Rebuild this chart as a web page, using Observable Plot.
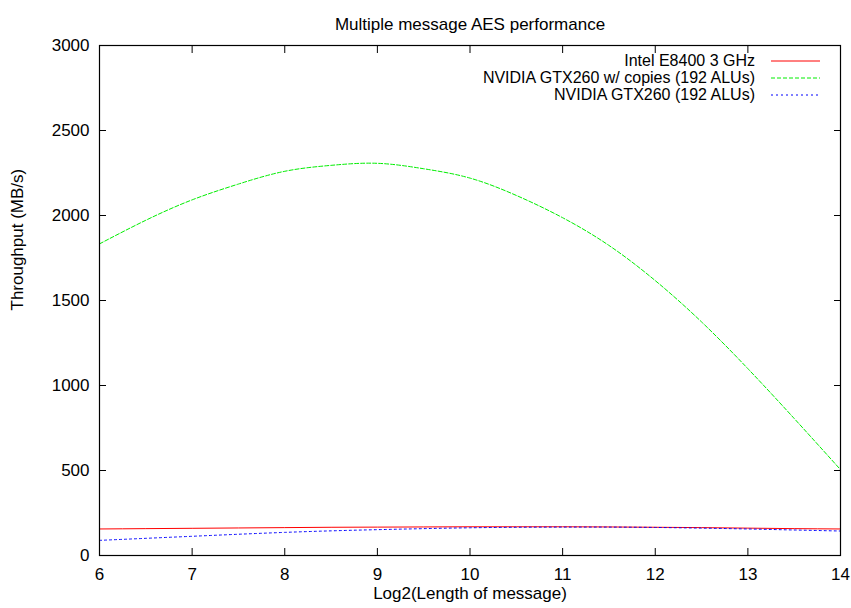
<!DOCTYPE html>
<html>
<head>
<meta charset="utf-8">
<script src="https://cdn.jsdelivr.net/npm/d3@7"></script>
<script src="https://cdn.jsdelivr.net/npm/@observablehq/plot@0.6"></script>
<style>
  html, body { margin: 0; padding: 0; background: #fff; }
  #wrap { position: relative; width: 851px; height: 608px; font-family: "Liberation Sans", Arial, sans-serif; }
  #legend { position: absolute; top: 52px; right: 31px; font-size: 16px; color: #000; }
  #legend .row { display: flex; align-items: center; justify-content: flex-end; height: 17.2px; line-height: 16px; }
  #legend svg { margin-left: 16px; }
</style>
</head>
<body>
<div id="wrap"><div id="legend"></div></div>
<script>
const title = "Multiple message AES performance";
const xLabel = "Log2(Length of message)";
const yLabel = "Throughput (MB/s)";

const messageLog2 = [6, 6.5, 7, 7.5, 8, 8.5, 9, 9.5, 10, 10.5, 11, 11.5, 12, 12.5, 13, 13.5, 14];
const intelE8400 = [156, 158, 160, 162, 164, 166, 167, 168, 169, 169, 169, 168, 166, 164, 161, 158, 156];
const gtx260Copies = [1833, 1972, 2092, 2185, 2260, 2295, 2307, 2275, 2220, 2118, 1987, 1824, 1617, 1374, 1099, 806, 505];
const gtx260 = [89, 101, 113, 125, 136, 145, 152, 158, 163, 166, 167, 167, 165, 161, 156, 150, 144];

const seriesNames = ["Intel E8400 3 GHz", "NVIDIA GTX260 w/ copies (192 ALUs)", "NVIDIA GTX260 (192 ALUs)"];
const seriesColors = ["#ff0000", "#00ee00", "#0000ff"];
const seriesDash = [null, "4,2", "2,3"];
const seriesValues = [intelE8400, gtx260Copies, gtx260];

const xTicks = [6, 7, 8, 9, 10, 11, 12, 13, 14];
const yTicks = [0, 500, 1000, 1500, 2000, 2500, 3000];

const lineMarks = seriesValues.map((vals, i) =>
  Plot.line(messageLog2.map((x, j) => ({x, y: vals[j]})), {
    x: "x", y: "y", stroke: seriesColors[i], strokeWidth: 1,
    strokeDasharray: seriesDash[i], curve: "natural"
  })
);

const chart = Plot.plot({
  width: 851,
  height: 608,
  marginLeft: 99,
  marginRight: 11,
  marginTop: 45,
  marginBottom: 53,
  style: { fontFamily: '"Liberation Sans", Arial, sans-serif', fontSize: "17px", color: "#000", background: "#fff" },
  x: { domain: [6, 14], ticks: xTicks },
  y: { domain: [0, 3000], ticks: yTicks },
  marks: [
    ...lineMarks,
    Plot.axisX({anchor: "bottom", ticks: xTicks, tickSize: -7, tickPadding: 19, tickFormat: d3.format("d"), label: null, fontSize: 17}),
    Plot.axisX({anchor: "top", ticks: xTicks, tickSize: -7, tickFormat: () => "", label: null}),
    Plot.axisY({anchor: "left", ticks: yTicks, tickSize: -7, tickPadding: 17, tickFormat: d3.format("d"), label: null, fontSize: 17}),
    Plot.axisY({anchor: "right", ticks: yTicks, tickSize: -7, tickFormat: () => "", label: null}),
    Plot.frame({stroke: "#000", strokeWidth: 1.2}),
    Plot.text([title], {text: d => d, frameAnchor: "top", dy: -28, fontSize: 17}),
    Plot.text([xLabel], {text: d => d, frameAnchor: "bottom", dy: 43, fontSize: 17}),
    Plot.text([yLabel], {text: d => d, frameAnchor: "left", dx: -82, dy: 10, rotate: -90, fontSize: 17})
  ]
});
document.getElementById("wrap").prepend(chart);

const legend = document.getElementById("legend");
seriesNames.forEach((name, i) => {
  const row = document.createElement("div");
  row.className = "row";
  const span = document.createElement("span");
  span.textContent = name;
  row.appendChild(span);
  const ns = "http://www.w3.org/2000/svg";
  const svg = document.createElementNS(ns, "svg");
  svg.setAttribute("width", "49");
  svg.setAttribute("height", "4");
  const ln = document.createElementNS(ns, "line");
  ln.setAttribute("x1", "0"); ln.setAttribute("x2", "49");
  ln.setAttribute("y1", "2"); ln.setAttribute("y2", "2");
  ln.setAttribute("stroke", seriesColors[i]);
  if (seriesDash[i]) ln.setAttribute("stroke-dasharray", seriesDash[i]);
  svg.appendChild(ln);
  row.appendChild(svg);
  legend.appendChild(row);
});
</script>
</body>
</html>
